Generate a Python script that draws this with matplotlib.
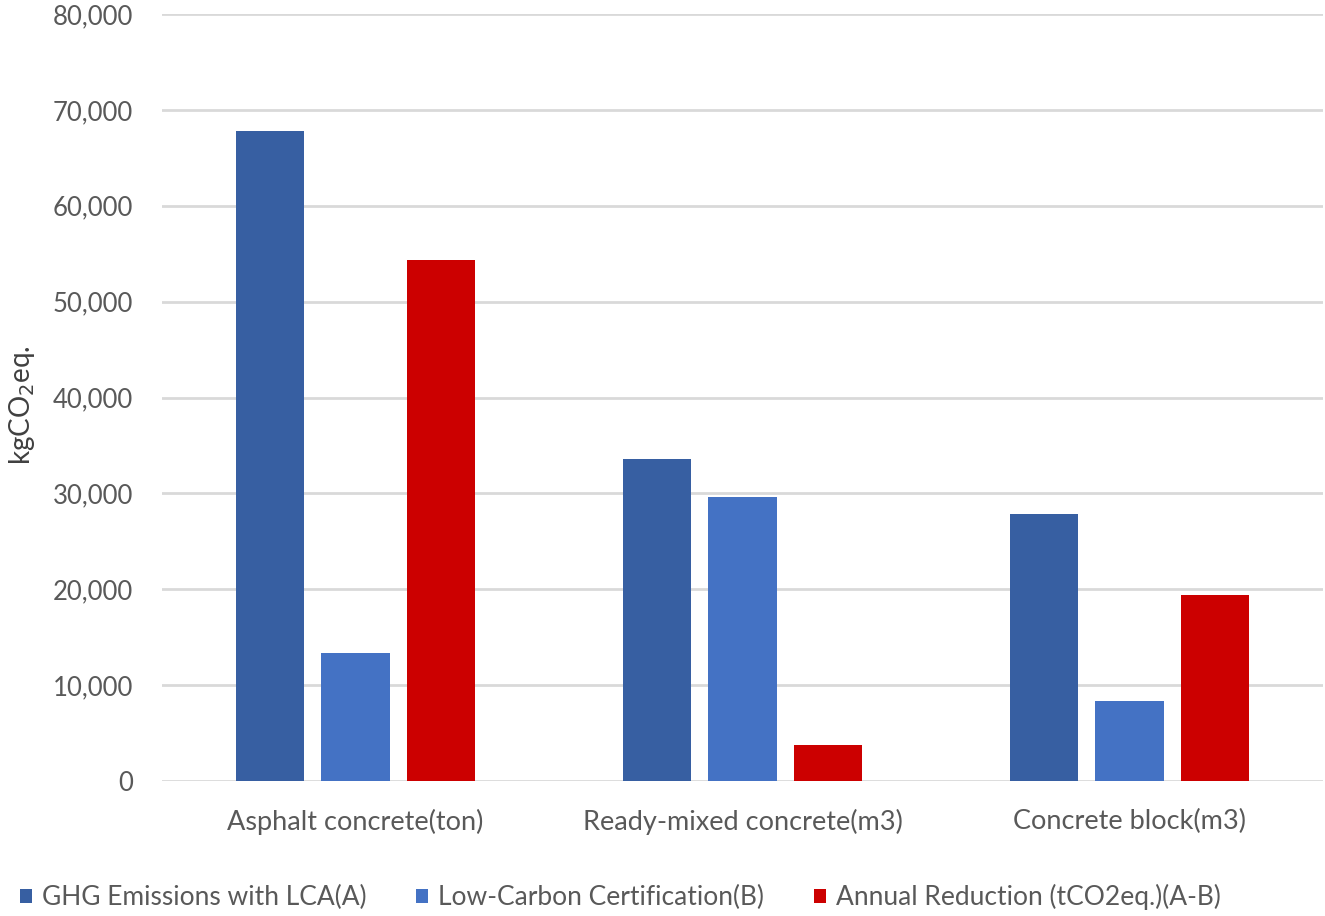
import numpy as np
from matplotlib import pyplot as plt
from matplotlib.ticker import FuncFormatter

plt.rcParams['font.family'] = ['Lato', 'DejaVu Sans']

# 数据
categories = ['Asphalt concrete(ton)', 'Ready-mixed concrete(m3)', 'Concrete block(m3)']
series_names = ['GHG Emissions with LCA(A)', 'Low-Carbon Certification(B)', 'Annual Reduction (tCO2eq.)(A-B)']
ghg_lca = [67780, 33580, 27840]
low_carbon = [13350, 29610, 8340]
reduction = [54330, 3750, 19400]
y_ticks = [0, 10000, 20000, 30000, 40000, 50000, 60000, 70000, 80000]

colors = ['#375FA2', '#4472C4', '#CC0000']
text_color = '#595959'

fig = plt.figure(figsize=(13.25, 9.16), dpi=100)
ax = fig.add_axes([162 / 1325, 1 - 781 / 916, 1161 / 1325, 767 / 916])

x = np.arange(len(categories))
width = 0.176
step = 0.221
for i, (vals, name) in enumerate(zip([ghg_lca, low_carbon, reduction], series_names)):
    ax.bar(x + (i - 1) * step, vals, width, color=colors[i], label=name, zorder=3)

ax.set_xlim(-0.5, 2.5)
ax.set_ylim(0, 80000)
ax.set_yticks(y_ticks)
ax.yaxis.set_major_formatter(FuncFormatter(lambda v, p: f'{int(v):,}'))
ax.set_xticks(x)
ax.set_xticklabels(categories)
ax.grid(axis='y', color='#D9D9D9', linewidth=2, zorder=0)
ax.set_axisbelow(True)
for s in ax.spines.values():
    s.set_visible(False)
ax.tick_params(axis='both', length=0, colors=text_color)
ax.tick_params(axis='y', pad=21, labelsize=18.5)
ax.tick_params(axis='x', pad=20, labelsize=19.5)
ax.set_ylabel('kgCO$_2$eq.', fontsize=20, color='#404040')
ax.yaxis.set_label_coords(-0.1077, 0.49)

# 图例放在底部
leg = fig.legend(loc='center left', bbox_to_anchor=(-0.003, 1 - 897 / 916), ncol=3, frameon=False,
                 fontsize=19, handlelength=0.45, handleheight=0.45, handletextpad=0.38,
                 columnspacing=1.9, labelcolor=text_color)

fig.savefig('out.png', dpi=100)
